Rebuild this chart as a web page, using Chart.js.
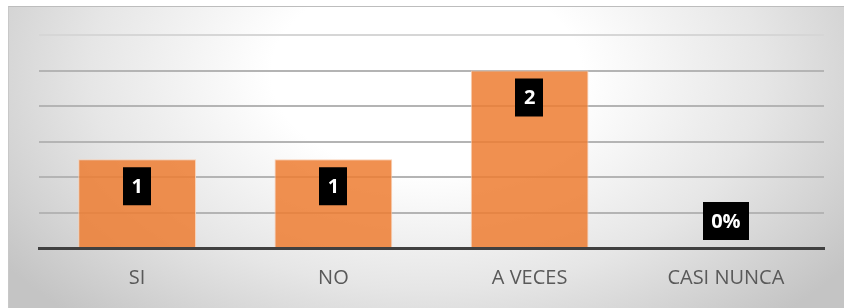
<!DOCTYPE html>
<html>
<head>
<meta charset="utf-8">
<script src="https://cdn.jsdelivr.net/npm/chart.js@4"></script>
<style>
  html, body { margin: 0; padding: 0; background: #ffffff; }
  #wrap { position: relative; width: 844px; height: 308px; overflow: hidden; background: #ffffff; }
  #frame { position: absolute; left: 8px; top: 6px; width: 836px; height: 302px;
    border-top: 1px solid #bdbdbd; border-left: 1px solid #c8c8c8; box-sizing: border-box;
    background: radial-gradient(ellipse 62% 110% at 50% 22%, #ffffff 0%, #ffffff 30%, #e6e6e6 65%, #c4c4c4 100%); }
  canvas { position: absolute; left: 0; top: 0; }
</style>
</head>
<body>
<div id="wrap">
  <div id="frame"></div>
  <canvas id="c" width="844" height="308"></canvas>
</div>
<script>
const categories = ["SI", "NO", "A VECES", "CASI NUNCA"];
const values = [1, 1, 2, 0];
const valueLabels = ["1", "1", "2", "0%"];

const labelBoxes = {
  id: 'labelBoxes',
  afterDatasetsDraw(chart) {
    const ctx = chart.ctx;
    const meta = chart.getDatasetMeta(0);
    ctx.save();
    ctx.font = 'bold 20px "Open Sans"';
    ctx.textAlign = 'center';
    ctx.textBaseline = 'middle';
    meta.data.forEach((bar, i) => {
      const txt = valueLabels[i];
      const w = ctx.measureText(txt).width + 17;
      const h = 38;
      const base = bar.base;
      const top = Math.min(bar.y + 8, base - 8 - h);
      ctx.fillStyle = '#000000';
      ctx.fillRect(Math.round(bar.x - w / 2), top, Math.round(w), h);
      ctx.fillStyle = '#ffffff';
      ctx.fillText(txt, bar.x, top + h / 2 + 1);
    });
    ctx.restore();
  }
};

new Chart(document.getElementById('c'), {
  type: 'bar',
  data: {
    labels: categories,
    datasets: [{
      data: values,
      backgroundColor: 'rgba(237,125,49,0.85)',
      borderColor: 'rgba(250,205,175,0.9)',
      borderWidth: 1,
      barPercentage: 0.6,
      categoryPercentage: 1.0
    }]
  },
  options: {
    responsive: false,
    animation: false,
    layout: { padding: { left: 39, right: 20, top: 35, bottom: 0 } },
    plugins: { legend: { display: false }, tooltip: { enabled: false } },
    scales: {
      x: {
        grid: { display: false, drawTicks: false },
        border: { display: true, color: '#404040', width: 3 },
        ticks: { color: '#595959', font: { family: '"Open Sans"', size: 20 }, padding: 18 },
        afterFit(s) { s.height = 60; }
      },
      y: {
        min: 0, max: 2.4,
        ticks: { display: false, stepSize: 0.4 },
        grid: {
          color: (c) => (c.tick && c.tick.value >= 2.39 ? '#d6d6d6' : '#b4b4b4'),
          lineWidth: 2,
          drawTicks: false
        },
        border: { display: false },
        afterFit(s) { s.width = 0; }
      }
    }
  },
  plugins: [labelBoxes]
});
</script>
</body>
</html>
